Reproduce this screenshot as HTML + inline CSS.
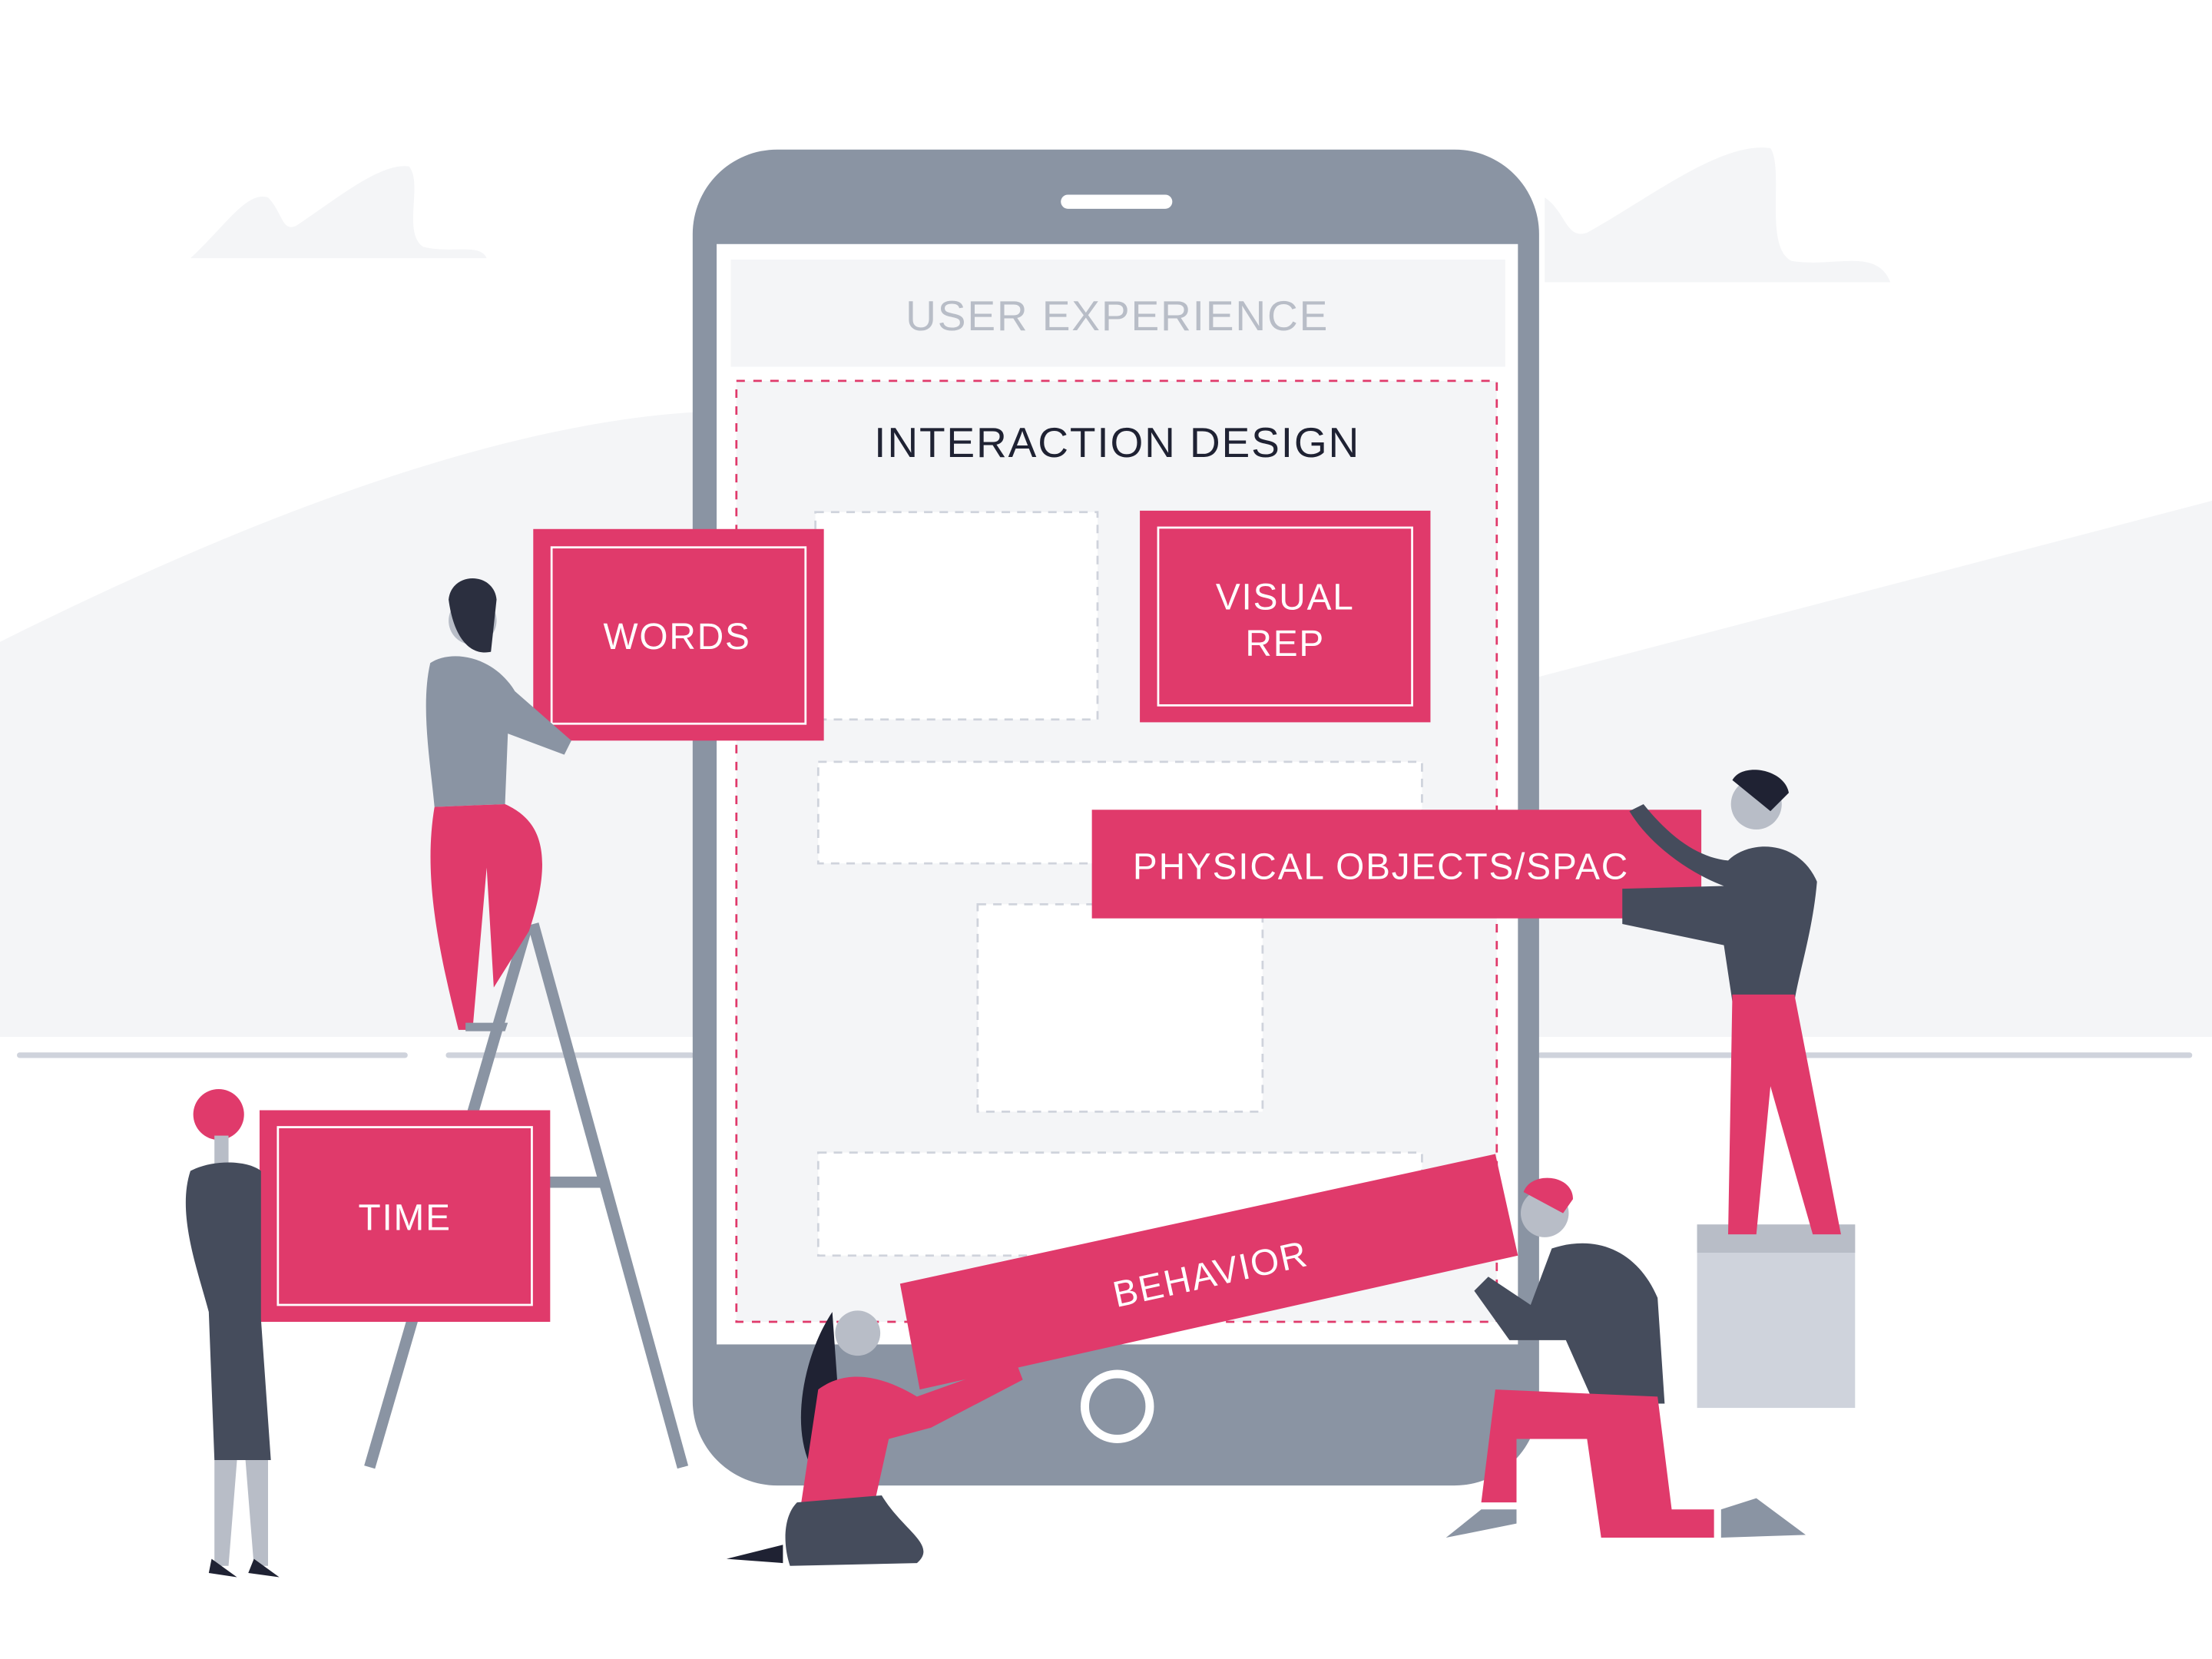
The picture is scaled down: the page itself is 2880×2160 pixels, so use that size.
<!DOCTYPE html>
<html><head><meta charset="utf-8"><style>
html,body{margin:0;padding:0;background:#fff;}
svg{display:block;}
text{font-family:"Liberation Sans",sans-serif;}
</style></head><body>
<svg width="2880" height="2160" viewBox="0 0 1568 1176" xmlns="http://www.w3.org/2000/svg">
<rect width="1568" height="1176" fill="#fff"/>
<!-- clouds -->
<path d="M135,183 C160,160 175,135 190,140 C200,150 200,165 210,160 C240,140 270,115 290,118 C300,130 285,165 300,175 C320,180 340,172 345,183 Z" fill="#f4f5f7"/>
<path d="M1095,200 L1095,140 C1110,150 1110,170 1125,165 C1170,140 1220,100 1255,105 C1265,120 1250,175 1270,185 C1300,190 1330,175 1340,200 Z" fill="#f4f5f7"/>
<!-- hills -->
<path d="M0,455 C170,370 350,300 495,292 L495,735 L0,735 Z" fill="#f4f5f7"/>
<path d="M1090,480 L1568,355 L1568,735 L1090,735 Z" fill="#f4f5f7"/>
<!-- ground -->
<g stroke="#cfd3dc" stroke-width="4" stroke-linecap="round">
<line x1="14" y1="748" x2="287" y2="748"/>
<line x1="318" y1="748" x2="490" y2="748"/>
<line x1="1092" y1="748" x2="1552" y2="748"/>
</g>
<!-- phone -->
<rect x="491" y="106" width="600" height="947" rx="60" fill="#8a94a3"/>
<rect x="508" y="173" width="568" height="780" fill="#fff"/>
<rect x="752" y="138" width="79" height="10" rx="5" fill="#fff"/>
<circle cx="792" cy="997" r="23" fill="none" stroke="#fff" stroke-width="6"/>
<rect x="518" y="184" width="549" height="76" fill="#f4f5f7"/>
<text x="792" y="234" text-anchor="middle" font-size="30" fill="#b8bdc7" letter-spacing="1">USER EXPERIENCE</text>
<rect x="522" y="270" width="539" height="667" fill="#f4f5f7" stroke="#e03a6b" stroke-width="1.5" stroke-dasharray="6,6"/>
<text x="792" y="324" text-anchor="middle" font-size="30" fill="#1f2233" letter-spacing="1">INTERACTION DESIGN</text>
<g fill="#fff" stroke="#cfd3dc" stroke-width="1.5" stroke-dasharray="6,5">
<rect x="578" y="363" width="200" height="147"/>
<rect x="580" y="540" width="428" height="72"/>
<rect x="693" y="641" width="202" height="147"/>
<rect x="580" y="817" width="428" height="73"/>
</g>
<!-- ladder -->
<g stroke="#8a94a3" stroke-width="8">
<line x1="374" y1="655" x2="262" y2="1040"/>
<line x1="378" y1="655" x2="484" y2="1040"/>
<line x1="385" y1="838" x2="428" y2="838"/>
</g>
<!-- right box -->
<rect x="1203" y="868" width="112" height="130" fill="#cfd3dc"/>
<rect x="1203" y="868" width="112" height="20" fill="#b8bdc7"/>
<!-- pink boxes -->
<g fill="#e03a6b">
<rect x="378" y="375" width="206" height="150"/>
<rect x="808" y="362" width="206" height="150"/>
<rect x="184" y="787" width="206" height="150"/>
<rect x="774" y="574" width="432" height="77"/>
<polygon points="638,910 1060,818 1076,890 652,985"/>
</g>
<g fill="none" stroke="#fff" stroke-width="1.5">
<rect x="391" y="388" width="180" height="125"/>
<rect x="821" y="374" width="180" height="126"/>
<rect x="197" y="799" width="180" height="126"/>
</g>
<g fill="#fff" font-size="26" text-anchor="middle" letter-spacing="1">
<text x="480" y="460">WORDS</text>
<text x="911" y="432">VISUAL</text>
<text x="911" y="465">REP</text>
<text x="287" y="872">TIME</text>
<text x="803" y="623" text-anchor="start">PHYSICAL OBJECTS/SPAC</text>
<text x="858" y="912" transform="rotate(-12.3 858 903)">BEHAVIOR</text>
</g>
<!-- man on ladder -->
<path d="M305,470 C320,460 350,465 365,490 L405,525 L400,535 L360,520 L358,570 L308,572 C305,540 298,500 305,470 Z" fill="#8a94a3"/>
<path d="M308,572 L358,570 C380,580 395,600 375,660 L350,700 L345,615 L335,730 L325,730 C310,670 300,620 308,572 Z" fill="#e03a6b"/>
<circle cx="335" cy="440" r="17" fill="#b8bdc7"/>
<path d="M318,425 C320,405 350,405 352,425 L348,462 C335,465 322,455 318,425 Z" fill="#2b2f3f"/>
<path d="M330,725 L360,725 L358,731 L330,731 Z" fill="#8a94a3"/>
<!-- woman left -->
<circle cx="155" cy="790" r="18" fill="#e03a6b"/>
<rect x="152" y="805" width="10" height="20" fill="#b8bdc7"/>
<path d="M135,830 C150,822 175,822 185,830 L185,935 L192,1035 L152,1035 L148,930 C140,900 125,860 135,830 Z" fill="#454c5c"/>
<path d="M152,1035 L168,1035 L162,1110 L152,1110 Z M174,1035 L190,1035 L190,1110 L180,1110 Z" fill="#b8bdc7"/>
<path d="M148,1115 L168,1118 L150,1105 Z M176,1115 L198,1118 L180,1105 Z" fill="#1f2233"/>
<!-- man right standing -->
<circle cx="1245" cy="570" r="18" fill="#b8bdc7"/>
<path d="M1228,553 C1235,540 1265,545 1268,562 L1255,575 Z" fill="#1f2233"/>
<path d="M1225,610 C1240,595 1275,595 1288,625 C1285,660 1275,690 1272,710 L1228,710 L1222,670 L1150,655 L1150,630 L1222,628 C1200,620 1170,600 1155,575 L1165,570 C1185,595 1205,608 1225,610 Z" fill="#454c5c"/>
<path d="M1228,705 L1272,705 L1305,875 L1285,875 L1255,770 L1245,875 L1225,875 Z" fill="#e03a6b"/>
<!-- woman sitting -->
<circle cx="608" cy="945" r="16" fill="#b8bdc7"/>
<path d="M590,930 C570,960 560,1010 575,1040 L595,1000 Z" fill="#1f2233"/>
<path d="M580,985 C600,970 625,975 650,990 L720,965 L725,978 L660,1012 L630,1020 L620,1065 L568,1065 Z" fill="#e03a6b"/>
<path d="M565,1065 L625,1060 C640,1085 665,1095 650,1108 L560,1110 C555,1095 555,1075 565,1065 Z" fill="#454c5c"/>
<path d="M515,1105 L555,1095 L555,1108 Z" fill="#1f2233"/>
<!-- kneeling man -->
<circle cx="1095" cy="860" r="17" fill="#b8bdc7"/>
<path d="M1080,845 C1085,830 1115,832 1115,850 L1108,860 Z" fill="#e03a6b"/>
<path d="M1100,885 C1130,875 1160,885 1175,920 L1180,995 L1130,995 L1110,950 L1070,950 L1045,915 L1055,905 L1085,925 Z" fill="#454c5c"/>
<path d="M1060,985 L1175,990 L1185,1070 L1215,1070 L1215,1090 L1135,1090 L1125,1020 L1075,1020 L1075,1065 L1050,1065 Z" fill="#e03a6b"/>
<path d="M1025,1090 L1075,1080 L1075,1070 L1050,1070 Z M1220,1070 L1245,1062 L1280,1088 L1220,1090 Z" fill="#8a94a3"/>
</svg>
</body></html>
